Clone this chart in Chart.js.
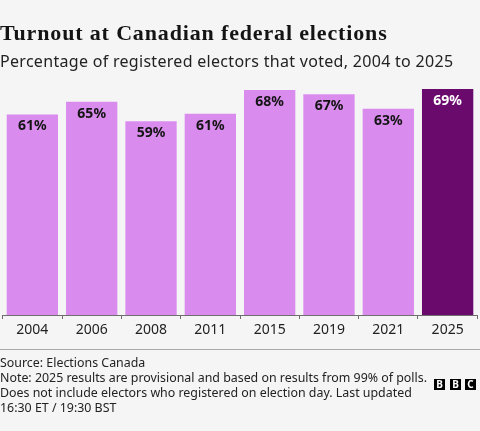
<!DOCTYPE html>
<html>
<head>
<meta charset="utf-8">
<script src="https://cdn.jsdelivr.net/npm/chart.js@4"></script>
<style>
  html, body { margin:0; padding:0; background:#f5f5f5; }
  #wrap { position:relative; width:480px; height:431px; overflow:hidden; background:#f5f5f5; }
  #c { position:absolute; left:0; top:0; }
  .t { position:absolute; left:0; white-space:nowrap; color:#141414; }
  #title { top:22px; font-family:"Liberation Serif", serif; font-weight:bold; font-size:22px; line-height:22px; letter-spacing:0.85px; }
  #sub { top:53px; font-family:"Noto Sans", sans-serif; font-size:16px; line-height:16px; letter-spacing:0.3px; color:#222; }
  #sep { position:absolute; left:0; top:349px; width:480px; height:1px; background:#aaa; }
  #foot { top:355px; font-family:"Noto Sans", sans-serif; font-size:12.4px; line-height:15px; color:#222; }
  .sq { position:absolute; top:379px; width:11px; height:11px; background:#000; color:#fff;
        font-family:"Noto Sans", sans-serif; font-weight:bold; font-size:10px; line-height:11px; text-align:center; }
</style>
</head>
<body>
<div id="wrap">
  <canvas id="c" width="480" height="431"></canvas>
  <div class="t" id="title">Turnout at Canadian federal elections</div>
  <div class="t" id="sub">Percentage of registered electors that voted, 2004 to 2025</div>
  <div id="sep"></div>
  <div class="t" id="foot">Source: Elections Canada<br>Note: 2025 results are provisional and based on results from 99% of polls.<br>Does not include electors who registered on election day. Last updated<br>16:30 ET / 19:30 BST</div>
  <div class="sq" style="left:434px">B</div>
  <div class="sq" style="left:450px">B</div>
  <div class="sq" style="left:465px">C</div>
</div>
<script>
const years = ["2004","2006","2008","2011","2015","2019","2021","2025"];
const turnout = [60.9, 64.7, 58.8, 61.1, 68.3, 67.0, 62.6, 68.6];
const labels = ["61%","65%","59%","61%","68%","67%","63%","69%"];

const light = "#da8cee";
const dark = "#6a0a6d";
const colors = years.map((y, i) => i === years.length - 1 ? dark : light);
const labelColors = years.map((y, i) => i === years.length - 1 ? "#ffffff" : "#141414");

const valueLabels = {
  id: "valueLabels",
  afterDatasetsDraw(chart) {
    const ctx = chart.ctx;
    const meta = chart.getDatasetMeta(0);
    ctx.save();
    ctx.font = "bold 14px 'Noto Sans', sans-serif";
    ctx.textAlign = "center";
    ctx.textBaseline = "middle";
    meta.data.forEach((bar, i) => {
      ctx.fillStyle = labelColors[i];
      ctx.fillText(labels[i], bar.x, bar.y + 12);
    });
    ctx.restore();
  }
};

new Chart(document.getElementById("c"), {
  type: "bar",
  data: {
    labels: years,
    datasets: [{
      data: turnout,
      backgroundColor: colors,
      borderWidth: 0,
      categoryPercentage: 1,
      barPercentage: 0.865
    }]
  },
  options: {
    responsive: false,
    animation: false,
    devicePixelRatio: 1,
    layout: { padding: { left: 2.7, right: 2.7, top: 84.4, bottom: 86 } },
    plugins: { legend: { display: false }, tooltip: { enabled: false } },
    scales: {
      y: { display: false, min: 0, max: 70 },
      x: {
        afterFit(s) { s.height = 30; },
        border: { display: true, color: "#6e6e6e", width: 1 },
        grid: { drawOnChartArea: false, drawTicks: true, tickLength: 4, color: "#6e6e6e" },
        ticks: { padding: 3, color: "#222", font: { family: "'Noto Sans', sans-serif", size: 14 } }
      }
    }
  },
  plugins: [valueLabels]
});
</script>
</body>
</html>
